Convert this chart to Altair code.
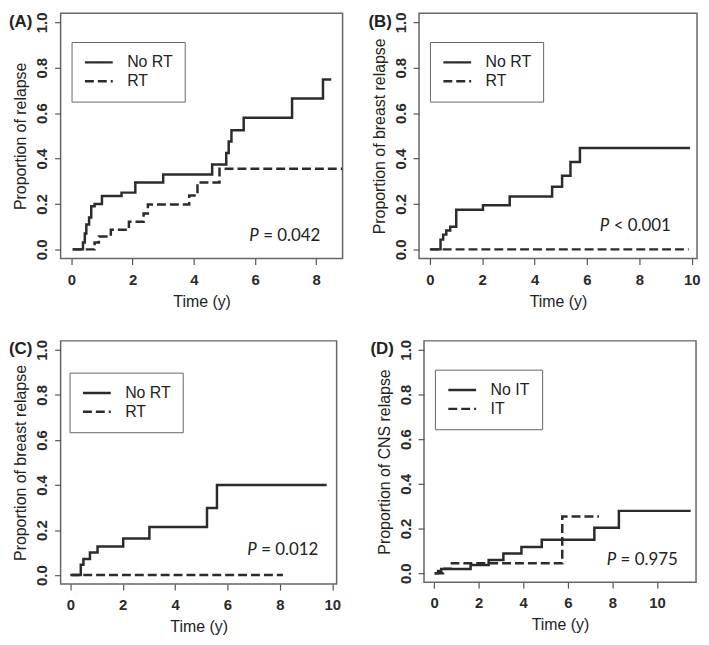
import altair as alt
import pandas as pd

# ---------------- data ----------------
Y_TICKS = [0.0, 0.2, 0.4, 0.6, 0.8, 1.0]

# Panel A: proportion of relapse
A_LABEL = "(A)"
A_YTITLE = "Proportion of relapse"
A_NAMES = ["No RT", "RT"]
A_S1_T = [0.04, 0.38, 0.44, 0.49, 0.58, 0.65, 0.76, 1.0, 1.64, 2.09, 3.0, 4.6, 5.06, 5.14, 5.23, 5.63, 7.21, 8.22, 8.49]
A_S1_V = [0.0, 0.03, 0.07, 0.11, 0.14, 0.19, 0.20, 0.235, 0.25, 0.295, 0.33, 0.374, 0.424, 0.475, 0.525, 0.58, 0.665, 0.748, 0.748]
A_S2_T = [0.05, 0.76, 0.9, 1.29, 1.88, 2.36, 2.5, 3.85, 4.12, 4.84, 8.85]
A_S2_V = [0.0, 0.03, 0.057, 0.086, 0.122, 0.158, 0.198, 0.237, 0.295, 0.355, 0.355]
A_XTICKS = [0, 2, 4, 6, 8]
A_XDOM = [-0.35, 8.86]
A_P_OP = "= 0.042"

# Panel B: breast relapse
B_LABEL = "(B)"
B_YTITLE = "Proportion of breast relapse"
B_NAMES = ["No RT", "RT"]
B_S1_T = [0.04, 0.41, 0.51, 0.63, 0.78, 1.01, 2.03, 3.05, 4.67, 5.05, 5.37, 5.73, 9.93]
B_S1_V = [0.0, 0.043, 0.065, 0.083, 0.10, 0.175, 0.194, 0.233, 0.276, 0.324, 0.385, 0.446, 0.446]
B_S2_T = [0.0, 9.88]
B_S2_V = [0.0, 0.0]
B_XTICKS = [0, 2, 4, 6, 8, 10]
B_XDOM = [-0.41, 10.2]
B_P_OP = "< 0.001"

# Panel C: breast relapse
C_LABEL = "(C)"
C_YTITLE = "Proportion of breast relapse"
C_NAMES = ["No RT", "RT"]
C_S1_T = [0.06, 0.4, 0.5, 0.75, 1.04, 2.02, 3.02, 5.22, 5.6, 9.79]
C_S1_V = [0.0, 0.046, 0.072, 0.10, 0.127, 0.163, 0.214, 0.298, 0.40, 0.40]
C_S2_T = [0.0, 8.12]
C_S2_V = [0.0, 0.0]
C_XTICKS = [0, 2, 4, 6, 8, 10]
C_XDOM = [-0.37, 10.17]
C_P_OP = "= 0.012"

# Panel D: CNS relapse
D_LABEL = "(D)"
D_YTITLE = "Proportion of CNS relapse"
D_NAMES = ["No IT", "IT"]
D_S1_T = [0.03, 0.18, 0.32, 1.64, 2.45, 3.11, 3.92, 4.83, 7.19, 8.29, 11.51]
D_S1_V = [0.0, 0.01, 0.019, 0.037, 0.059, 0.088, 0.117, 0.15, 0.203, 0.279, 0.279]
D_S2_T = [0.03, 0.4, 0.8, 5.75, 7.4]
D_S2_V = [0.0, 0.02, 0.045, 0.254, 0.254]
D_XTICKS = [0, 2, 4, 6, 8, 10]
D_XDOM = [-0.45, 11.75]
D_P_OP = "= 0.975"

LINE_COLOR = "#2b2b2b"
TEXT_COLOR = "#222222"


def panel(label, ytitle, names, t1, v1, t2, v2, xticks, xdom, p_op,
          width, height, leg_xy, p_xy, lab_xy):
    df = pd.DataFrame({
        "t": t1 + t2,
        "v": v1 + v2,
        "g": [names[0]] * len(t1) + [names[1]] * len(t2),
    })
    lines = alt.Chart(df).mark_line(
        interpolate="step-after", color=LINE_COLOR, strokeWidth=2.5, clip=True
    ).encode(
        x=alt.X("t:Q", scale=alt.Scale(domain=xdom, nice=False, zero=False),
                axis=alt.Axis(values=xticks, title="Time (y)", format="d")),
        y=alt.Y("v:Q", scale=alt.Scale(domain=[-0.04, 1.04], nice=False, zero=False),
                axis=alt.Axis(values=Y_TICKS, format=".1f", title=ytitle,
                              labelAngle=270, labelAlign="center", labelBaseline="bottom")),
        strokeDash=alt.StrokeDash(
            "g:N",
            scale=alt.Scale(domain=names, range=[[1, 0], [9, 4]]),
            legend=alt.Legend(title=None, orient="none",
                              legendX=leg_xy[0], legendY=leg_xy[1]),
        ),
    )
    p_italic = alt.Chart(pd.DataFrame({"s": ["P"]})).mark_text(
        font="Lato", fontSize=17, fontStyle="italic", align="left",
        baseline="alphabetic", color=TEXT_COLOR
    ).encode(x=alt.value(p_xy[0]), y=alt.value(p_xy[1]), text="s:N")
    p_rest = alt.Chart(pd.DataFrame({"s": [p_op]})).mark_text(
        font="Lato", fontSize=17, align="left", baseline="alphabetic", color=TEXT_COLOR
    ).encode(x=alt.value(p_xy[0] + 14), y=alt.value(p_xy[1]), text="s:N")
    lab = alt.Chart(pd.DataFrame({"s": [label]})).mark_text(
        font="Liberation Sans", fontSize=17, fontWeight="bold", align="left",
        baseline="middle", color=TEXT_COLOR
    ).encode(x=alt.value(lab_xy[0]), y=alt.value(lab_xy[1]), text="s:N")
    return alt.layer(lines, p_italic, p_rest, lab).properties(width=width, height=height)


pa = panel(A_LABEL, A_YTITLE, A_NAMES, A_S1_T, A_S1_V, A_S2_T, A_S2_V, A_XTICKS, A_XDOM,
           A_P_OP, 284, 247, (11, 29), (190, 229), (-52, 9))
pb = panel(B_LABEL, B_YTITLE, B_NAMES, B_S1_T, B_S1_V, B_S2_T, B_S2_V, B_XTICKS, B_XDOM,
           B_P_OP, 280, 247, (11, 29), (182, 219), (-51, 9))
pc = panel(C_LABEL, C_YTITLE, C_NAMES, C_S1_T, C_S1_V, C_S2_T, C_S2_V, C_XTICKS, C_XDOM,
           C_P_OP, 278, 245, (9, 32), (188, 216), (-52, 8))
pd_ = panel(D_LABEL, D_YTITLE, D_NAMES, D_S1_T, D_S1_V, D_S2_T, D_S2_V, D_XTICKS, D_XDOM,
            D_P_OP, 274, 243, (11, 29), (184, 226), (-54, 8))

row1 = alt.hconcat(pa, pb, spacing=24).resolve_scale(strokeDash="independent").resolve_legend(strokeDash="independent")
row2 = alt.hconcat(pc, pd_, spacing=28).resolve_scale(strokeDash="independent").resolve_legend(strokeDash="independent")

chart = alt.vconcat(row1, row2, spacing=28).resolve_scale(
    strokeDash="independent"
).resolve_legend(strokeDash="independent").properties(
    padding=0, background="white"
).configure_view(
    stroke="#666666", strokeWidth=1.5
).configure_axis(
    grid=False, domain=False, tickColor="#555555", tickSize=6, tickWidth=1.2,
    labelFont="Liberation Sans", labelFontSize=15, labelFontWeight="bold",
    labelColor="#2a2a2a",
    titleFont="Liberation Sans", titleFontSize=16, titleFontWeight="normal",
    titleColor="#222222",
).configure_axisX(
    labelPadding=8, titlePadding=6
).configure_axisY(
    labelPadding=5, titlePadding=6
).configure_legend(
    strokeColor="#666666", fillColor="white", padding=12,
    labelFont="Liberation Sans", labelFontSize=16, labelColor=TEXT_COLOR,
    symbolSize=196, symbolStrokeWidth=2.5, symbolStrokeColor=LINE_COLOR,
    symbolType="M-1,0H3", labelOffset=27, rowPadding=2,
)

chart.save("out.html", embed_options={"renderer": "svg", "actions": False})
